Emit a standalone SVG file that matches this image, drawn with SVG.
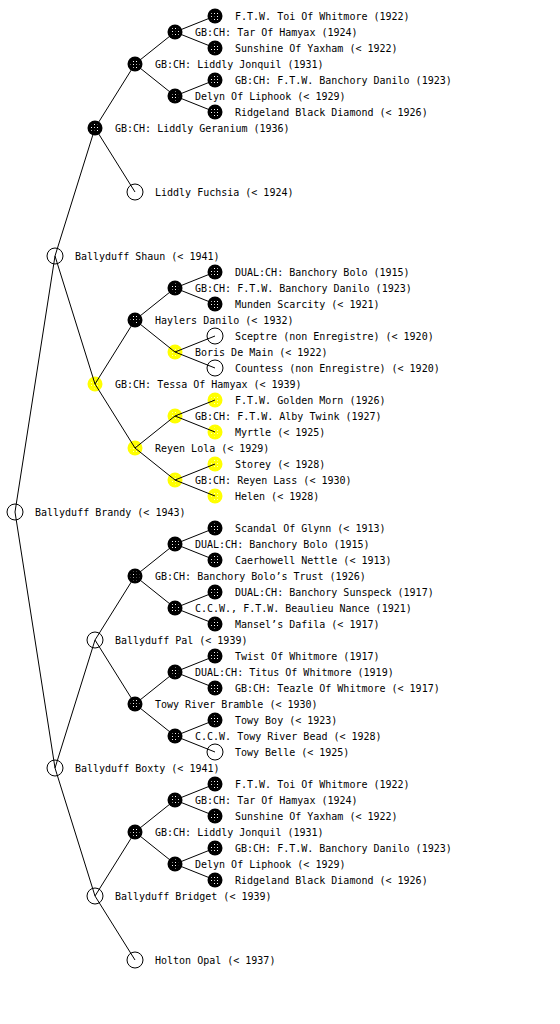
<svg xmlns="http://www.w3.org/2000/svg" width="560" height="1024" viewBox="0 0 560 1024">
<style>
text{font-family:"DejaVu Sans Mono","Liberation Mono",monospace;font-size:10px;fill:#000}
.e line{stroke:#000;stroke-width:1}
.b{fill:#000}
.bd{fill:url(#dots)}
.y{fill:#ffff00}
.yd{fill:url(#ydots)}
.w{fill:none;stroke:#000;stroke-width:1}
</style>
<defs>
<pattern id="dots" width="3" height="3" patternUnits="userSpaceOnUse"><rect width="3" height="3" fill="#000"/><rect x="1" y="1" width="1" height="1" fill="#fff"/></pattern>
<pattern id="ydots" width="3" height="3" patternUnits="userSpaceOnUse"><rect width="3" height="3" fill="#ffff00"/><rect x="1" y="1" width="1" height="1" fill="#ffffb4"/></pattern>
</defs>
<g id="n-brandy"><circle class="w" cx="15" cy="512" r="8"/><text x="35" y="516">Ballyduff Brandy (&lt; 1943)</text></g>
<g id="n-shaun"><circle class="w" cx="55" cy="256" r="8"/><text x="75" y="260">Ballyduff Shaun (&lt; 1941)</text></g>
<g id="n-boxty"><circle class="w" cx="55" cy="768" r="8"/><text x="75" y="772">Ballyduff Boxty (&lt; 1941)</text></g>
<g id="n-geranium"><circle class="b" cx="95" cy="128" r="7.5"/><circle class="bd" cx="95" cy="128" r="4.5"/><text x="115" y="132">GB:CH: Liddly Geranium (1936)</text></g>
<g id="n-tessa"><circle class="y" cx="95" cy="384" r="7.5"/><circle class="yd" cx="95" cy="384" r="4.5"/><text x="115" y="388">GB:CH: Tessa Of Hamyax (&lt; 1939)</text></g>
<g id="n-pal"><circle class="w" cx="95" cy="640" r="8"/><text x="115" y="644">Ballyduff Pal (&lt; 1939)</text></g>
<g id="n-bridget"><circle class="w" cx="95" cy="896" r="8"/><text x="115" y="900">Ballyduff Bridget (&lt; 1939)</text></g>
<g id="n-jonquil1"><circle class="b" cx="135" cy="64" r="7.5"/><circle class="bd" cx="135" cy="64" r="4.5"/><text x="155" y="68">GB:CH: Liddly Jonquil (1931)</text></g>
<g id="n-fuchsia"><circle class="w" cx="135" cy="192" r="8"/><text x="155" y="196">Liddly Fuchsia (&lt; 1924)</text></g>
<g id="n-haylers"><circle class="b" cx="135" cy="320" r="7.5"/><circle class="bd" cx="135" cy="320" r="4.5"/><text x="155" y="324">Haylers Danilo (&lt; 1932)</text></g>
<g id="n-lola"><circle class="y" cx="135" cy="448" r="7.5"/><circle class="yd" cx="135" cy="448" r="4.5"/><text x="155" y="452">Reyen Lola (&lt; 1929)</text></g>
<g id="n-bolotrust"><circle class="b" cx="135" cy="576" r="7.5"/><circle class="bd" cx="135" cy="576" r="4.5"/><text x="155" y="580">GB:CH: Banchory Bolo’s Trust (1926)</text></g>
<g id="n-bramble"><circle class="b" cx="135" cy="704" r="7.5"/><circle class="bd" cx="135" cy="704" r="4.5"/><text x="155" y="708">Towy River Bramble (&lt; 1930)</text></g>
<g id="n-jonquil2"><circle class="b" cx="135" cy="832" r="7.5"/><circle class="bd" cx="135" cy="832" r="4.5"/><text x="155" y="836">GB:CH: Liddly Jonquil (1931)</text></g>
<g id="n-opal"><circle class="w" cx="135" cy="960" r="8"/><text x="155" y="964">Holton Opal (&lt; 1937)</text></g>
<g id="n-tar1"><circle class="b" cx="175" cy="32" r="7.5"/><circle class="bd" cx="175" cy="32" r="4.5"/><text x="195" y="36">GB:CH: Tar Of Hamyax (1924)</text></g>
<g id="n-delyn1"><circle class="b" cx="175" cy="96" r="7.5"/><circle class="bd" cx="175" cy="96" r="4.5"/><text x="195" y="100">Delyn Of Liphook (&lt; 1929)</text></g>
<g id="n-danilo2"><circle class="b" cx="175" cy="288" r="7.5"/><circle class="bd" cx="175" cy="288" r="4.5"/><text x="195" y="292">GB:CH: F.T.W. Banchory Danilo (1923)</text></g>
<g id="n-boris"><circle class="y" cx="175" cy="352" r="7.5"/><circle class="yd" cx="175" cy="352" r="4.5"/><text x="195" y="356">Boris De Main (&lt; 1922)</text></g>
<g id="n-alby"><circle class="y" cx="175" cy="416" r="7.5"/><circle class="yd" cx="175" cy="416" r="4.5"/><text x="195" y="420">GB:CH: F.T.W. Alby Twink (1927)</text></g>
<g id="n-lass"><circle class="y" cx="175" cy="480" r="7.5"/><circle class="yd" cx="175" cy="480" r="4.5"/><text x="195" y="484">GB:CH: Reyen Lass (&lt; 1930)</text></g>
<g id="n-bolo2"><circle class="b" cx="175" cy="544" r="7.5"/><circle class="bd" cx="175" cy="544" r="4.5"/><text x="195" y="548">DUAL:CH: Banchory Bolo (1915)</text></g>
<g id="n-nance"><circle class="b" cx="175" cy="608" r="7.5"/><circle class="bd" cx="175" cy="608" r="4.5"/><text x="195" y="612">C.C.W., F.T.W. Beaulieu Nance (1921)</text></g>
<g id="n-titus"><circle class="b" cx="175" cy="672" r="7.5"/><circle class="bd" cx="175" cy="672" r="4.5"/><text x="195" y="676">DUAL:CH: Titus Of Whitmore (1919)</text></g>
<g id="n-bead"><circle class="b" cx="175" cy="736" r="7.5"/><circle class="bd" cx="175" cy="736" r="4.5"/><text x="195" y="740">C.C.W. Towy River Bead (&lt; 1928)</text></g>
<g id="n-tar2"><circle class="b" cx="175" cy="800" r="7.5"/><circle class="bd" cx="175" cy="800" r="4.5"/><text x="195" y="804">GB:CH: Tar Of Hamyax (1924)</text></g>
<g id="n-delyn2"><circle class="b" cx="175" cy="864" r="7.5"/><circle class="bd" cx="175" cy="864" r="4.5"/><text x="195" y="868">Delyn Of Liphook (&lt; 1929)</text></g>
<g id="n-toi1"><circle class="b" cx="215" cy="16" r="7.5"/><circle class="bd" cx="215" cy="16" r="4.5"/><text x="235" y="20">F.T.W. Toi Of Whitmore (1922)</text></g>
<g id="n-sunshine1"><circle class="b" cx="215" cy="48" r="7.5"/><circle class="bd" cx="215" cy="48" r="4.5"/><text x="235" y="52">Sunshine Of Yaxham (&lt; 1922)</text></g>
<g id="n-danilo1"><circle class="b" cx="215" cy="80" r="7.5"/><circle class="bd" cx="215" cy="80" r="4.5"/><text x="235" y="84">GB:CH: F.T.W. Banchory Danilo (1923)</text></g>
<g id="n-ridgeland1"><circle class="b" cx="215" cy="112" r="7.5"/><circle class="bd" cx="215" cy="112" r="4.5"/><text x="235" y="116">Ridgeland Black Diamond (&lt; 1926)</text></g>
<g id="n-bolo1"><circle class="b" cx="215" cy="272" r="7.5"/><circle class="bd" cx="215" cy="272" r="4.5"/><text x="235" y="276">DUAL:CH: Banchory Bolo (1915)</text></g>
<g id="n-munden"><circle class="b" cx="215" cy="304" r="7.5"/><circle class="bd" cx="215" cy="304" r="4.5"/><text x="235" y="308">Munden Scarcity (&lt; 1921)</text></g>
<g id="n-sceptre"><circle class="w" cx="215" cy="336" r="8"/><text x="235" y="340">Sceptre (non Enregistre) (&lt; 1920)</text></g>
<g id="n-countess"><circle class="w" cx="215" cy="368" r="8"/><text x="235" y="372">Countess (non Enregistre) (&lt; 1920)</text></g>
<g id="n-golden"><circle class="y" cx="215" cy="400" r="7.5"/><circle class="yd" cx="215" cy="400" r="4.5"/><text x="235" y="404">F.T.W. Golden Morn (1926)</text></g>
<g id="n-myrtle"><circle class="y" cx="215" cy="432" r="7.5"/><circle class="yd" cx="215" cy="432" r="4.5"/><text x="235" y="436">Myrtle (&lt; 1925)</text></g>
<g id="n-storey"><circle class="y" cx="215" cy="464" r="7.5"/><circle class="yd" cx="215" cy="464" r="4.5"/><text x="235" y="468">Storey (&lt; 1928)</text></g>
<g id="n-helen"><circle class="y" cx="215" cy="496" r="7.5"/><circle class="yd" cx="215" cy="496" r="4.5"/><text x="235" y="500">Helen (&lt; 1928)</text></g>
<g id="n-scandal"><circle class="b" cx="215" cy="528" r="7.5"/><circle class="bd" cx="215" cy="528" r="4.5"/><text x="235" y="532">Scandal Of Glynn (&lt; 1913)</text></g>
<g id="n-nettle"><circle class="b" cx="215" cy="560" r="7.5"/><circle class="bd" cx="215" cy="560" r="4.5"/><text x="235" y="564">Caerhowell Nettle (&lt; 1913)</text></g>
<g id="n-sunspeck"><circle class="b" cx="215" cy="592" r="7.5"/><circle class="bd" cx="215" cy="592" r="4.5"/><text x="235" y="596">DUAL:CH: Banchory Sunspeck (1917)</text></g>
<g id="n-dafila"><circle class="b" cx="215" cy="624" r="7.5"/><circle class="bd" cx="215" cy="624" r="4.5"/><text x="235" y="628">Mansel’s Dafila (&lt; 1917)</text></g>
<g id="n-twist"><circle class="b" cx="215" cy="656" r="7.5"/><circle class="bd" cx="215" cy="656" r="4.5"/><text x="235" y="660">Twist Of Whitmore (1917)</text></g>
<g id="n-teazle"><circle class="b" cx="215" cy="688" r="7.5"/><circle class="bd" cx="215" cy="688" r="4.5"/><text x="235" y="692">GB:CH: Teazle Of Whitmore (&lt; 1917)</text></g>
<g id="n-towyboy"><circle class="b" cx="215" cy="720" r="7.5"/><circle class="bd" cx="215" cy="720" r="4.5"/><text x="235" y="724">Towy Boy (&lt; 1923)</text></g>
<g id="n-towybelle"><circle class="w" cx="215" cy="752" r="8"/><text x="235" y="756">Towy Belle (&lt; 1925)</text></g>
<g id="n-toi2"><circle class="b" cx="215" cy="784" r="7.5"/><circle class="bd" cx="215" cy="784" r="4.5"/><text x="235" y="788">F.T.W. Toi Of Whitmore (1922)</text></g>
<g id="n-sunshine2"><circle class="b" cx="215" cy="816" r="7.5"/><circle class="bd" cx="215" cy="816" r="4.5"/><text x="235" y="820">Sunshine Of Yaxham (&lt; 1922)</text></g>
<g id="n-danilo3"><circle class="b" cx="215" cy="848" r="7.5"/><circle class="bd" cx="215" cy="848" r="4.5"/><text x="235" y="852">GB:CH: F.T.W. Banchory Danilo (1923)</text></g>
<g id="n-ridgeland2"><circle class="b" cx="215" cy="880" r="7.5"/><circle class="bd" cx="215" cy="880" r="4.5"/><text x="235" y="884">Ridgeland Black Diamond (&lt; 1926)</text></g>
<g class="e" id="connectors">
<line x1="15" y1="512" x2="55" y2="256"/><line x1="15" y1="512" x2="55" y2="768"/>
<line x1="55" y1="256" x2="95" y2="128"/><line x1="55" y1="256" x2="95" y2="384"/>
<line x1="55" y1="768" x2="95" y2="640"/><line x1="55" y1="768" x2="95" y2="896"/>
<line x1="95" y1="128" x2="135" y2="64"/><line x1="95" y1="128" x2="135" y2="192"/>
<line x1="95" y1="384" x2="135" y2="320"/><line x1="95" y1="384" x2="135" y2="448"/>
<line x1="95" y1="640" x2="135" y2="576"/><line x1="95" y1="640" x2="135" y2="704"/>
<line x1="95" y1="896" x2="135" y2="832"/><line x1="95" y1="896" x2="135" y2="960"/>
<line x1="135" y1="64" x2="175" y2="32"/><line x1="135" y1="64" x2="175" y2="96"/>
<line x1="135" y1="320" x2="175" y2="288"/><line x1="135" y1="320" x2="175" y2="352"/>
<line x1="135" y1="448" x2="175" y2="416"/><line x1="135" y1="448" x2="175" y2="480"/>
<line x1="135" y1="576" x2="175" y2="544"/><line x1="135" y1="576" x2="175" y2="608"/>
<line x1="135" y1="704" x2="175" y2="672"/><line x1="135" y1="704" x2="175" y2="736"/>
<line x1="135" y1="832" x2="175" y2="800"/><line x1="135" y1="832" x2="175" y2="864"/>
<line x1="175" y1="32" x2="215" y2="16"/><line x1="175" y1="32" x2="215" y2="48"/>
<line x1="175" y1="96" x2="215" y2="80"/><line x1="175" y1="96" x2="215" y2="112"/>
<line x1="175" y1="288" x2="215" y2="272"/><line x1="175" y1="288" x2="215" y2="304"/>
<line x1="175" y1="352" x2="215" y2="336"/><line x1="175" y1="352" x2="215" y2="368"/>
<line x1="175" y1="416" x2="215" y2="400"/><line x1="175" y1="416" x2="215" y2="432"/>
<line x1="175" y1="480" x2="215" y2="464"/><line x1="175" y1="480" x2="215" y2="496"/>
<line x1="175" y1="544" x2="215" y2="528"/><line x1="175" y1="544" x2="215" y2="560"/>
<line x1="175" y1="608" x2="215" y2="592"/><line x1="175" y1="608" x2="215" y2="624"/>
<line x1="175" y1="672" x2="215" y2="656"/><line x1="175" y1="672" x2="215" y2="688"/>
<line x1="175" y1="736" x2="215" y2="720"/><line x1="175" y1="736" x2="215" y2="752"/>
<line x1="175" y1="800" x2="215" y2="784"/><line x1="175" y1="800" x2="215" y2="816"/>
<line x1="175" y1="864" x2="215" y2="848"/><line x1="175" y1="864" x2="215" y2="880"/>
</g>
</svg>
